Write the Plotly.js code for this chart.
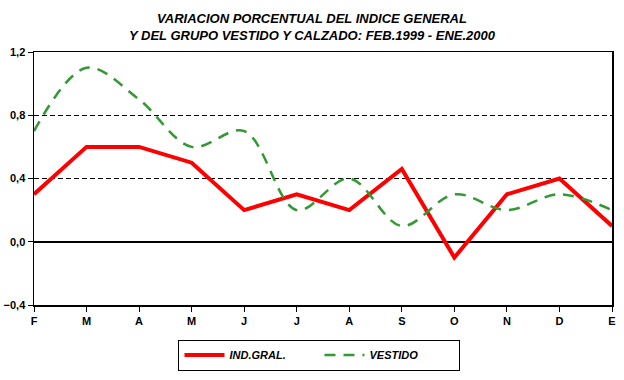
<!DOCTYPE html>
<html>
<head>
<meta charset="utf-8">
<script src="https://cdn.plot.ly/plotly-3.0.1.min.js"></script>
<style>html,body{margin:0;padding:0;background:#fff;}#chart{width:624px;height:380px;}</style>
</head>
<body>
<div id="chart"></div>
<script>
const months = ["F","M","A","M","J","J","A","S","O","N","D","E"];
const indGral = [0.3, 0.6, 0.6, 0.5, 0.2, 0.3, 0.2, 0.46, -0.1, 0.3, 0.4, 0.1];
const vestido = [0.7, 1.1, 0.9, 0.6, 0.7, 0.2, 0.4, 0.1, 0.3, 0.2, 0.3, 0.2];
const yTicks = [-0.4, 0.0, 0.4, 0.8, 1.2];

const xIdx = months.map((m, i) => i);
const font = {family: "Liberation Sans, Arial, sans-serif", size: 11, color: "#000", weight: "bold"};

const traces = [
  {x: xIdx, y: indGral, name: "IND.GRAL.", type: "scatter", mode: "lines",
   line: {color: "#ff0000", width: 4}},
  {x: xIdx, y: vestido, name: "VESTIDO", type: "scatter", mode: "lines",
   line: {color: "#339933", width: 2.5, dash: "11px,8px", shape: "spline", smoothing: 1}}
];

const layout = {
  width: 624, height: 380,
  margin: {l: 34, r: 12, t: 52, b: 75},
  paper_bgcolor: "#fff", plot_bgcolor: "#fff",
  separators: ",.",
  font: font,
  title: {
    text: "VARIACION PORCENTUAL DEL INDICE GENERAL<br>Y DEL GRUPO VESTIDO Y CALZADO: FEB.1999 - ENE.2000",
    font: {family: "Liberation Sans, Arial, sans-serif", size: 13, weight: "bold", style: "italic", color: "#000"},
    x: 0.5, xanchor: "center", yref: "container", y: 0.94, yanchor: "top"
  },
  xaxis: {
    range: [0, 11], tickmode: "array", tickvals: xIdx, ticktext: months,
    showgrid: false, zeroline: false,
    showline: true, linecolor: "#000", linewidth: 1.5, mirror: true,
    ticks: "outside", ticklen: 5, tickcolor: "#000", tickwidth: 1,
    tickfont: font, fixedrange: true, automargin: false
  },
  yaxis: {
    range: [-0.4, 1.2], tickmode: "array", tickvals: yTicks, tickformat: ".1f",
    showgrid: true, gridcolor: "#000", gridwidth: 1, griddash: "5px,3px",
    zeroline: true, zerolinecolor: "#000", zerolinewidth: 1.5,
    showline: true, linecolor: "#000", linewidth: 1.5, mirror: true,
    ticks: "outside", ticklen: 5, tickcolor: "#000", tickwidth: 1,
    tickfont: font, fixedrange: true, automargin: false
  },
  showlegend: true,
  legend: {
    orientation: "h", xref: "container", x: 0.512, xanchor: "center",
    yref: "container", y: 0.025, yanchor: "bottom",
    bordercolor: "#000", borderwidth: 1, bgcolor: "#fff",
    font: {family: "Liberation Sans, Arial, sans-serif", size: 11, weight: "bold", style: "italic", color: "#000"},
    itemwidth: 40, tracegroupgap: 0, entrywidth: 85
  }
};

Plotly.newPlot("chart", traces, layout, {displayModeBar: false, staticPlot: true});
</script>
</body>
</html>
